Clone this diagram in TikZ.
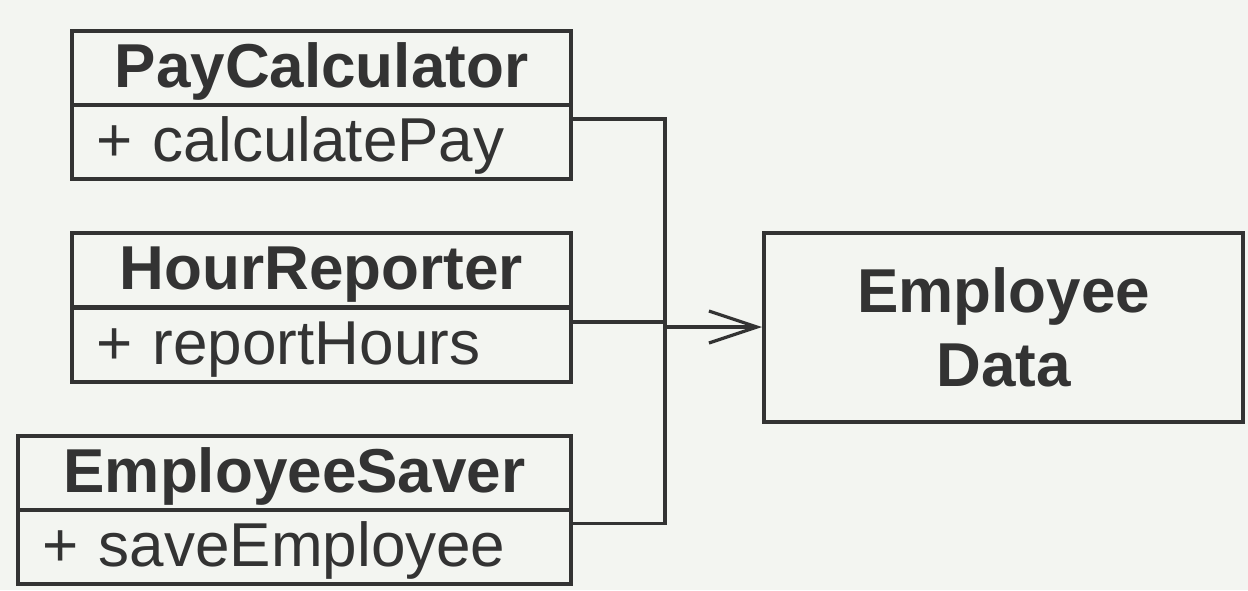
\documentclass[tikz,border=0pt]{standalone}
\usepackage{fontspec}
\setmainfont{Liberation Sans}
\usetikzlibrary{arrows.meta}
\definecolor{bgc}{HTML}{F3F5F1}
\definecolor{ink}{HTML}{333333}
\begin{document}
\begin{tikzpicture}[x=0.5pt,y=-0.5pt,
  every node/.style={font=\fontsize{31pt}{37pt}\selectfont, text=ink},
  comp/.style={draw=ink, line width=2pt, rectangle, minimum height=37pt, inner sep=0pt, text height=25.4pt, text depth=5.6pt},
  namecomp/.style={comp, font=\fontsize{31pt}{37pt}\selectfont\bfseries},
  attrcomp/.style={comp, align=left, inner xsep=12pt},
  conn/.style={draw=ink, line width=1.6pt},
  databox/.style={draw=ink, line width=2pt, rectangle, minimum width=239.5pt, minimum height=94.5pt, align=center, font=\fontsize{31pt}{37pt}\selectfont\bfseries}
]
\fill[bgc] (0,0) rectangle (1248,590);
\useasboundingbox (0,0) rectangle (1248,590);

% PayCalculator
\node[namecomp, minimum width=249.5pt] (pn) at (321.5,68) {PayCalculator};
\node[attrcomp, text width=225.5pt] (pa) at (321.5,142) {+ calculatePay};
% HourReporter
\node[namecomp, minimum width=249.5pt] (hn) at (321.5,270) {HourReporter};
\node[attrcomp, text width=225.5pt] (ha) at (321.5,345) {+ reportHours};
% EmployeeSaver
\node[namecomp, minimum width=276.5pt] (sn) at (294.5,472.5) {EmployeeSaver};
\node[attrcomp, text width=252.5pt] (sa) at (294.5,546.5) {+ saveEmployee};
% Employee Data
\node[databox] (ed) at (1003.5,327.5) {Employee\\Data};

\coordinate (bus) at (665,327);
\draw[conn] ([yshift=11.5pt]pa.east) -| (bus) |- ([yshift=11.5pt]sa.east);
\draw[conn] ([yshift=11.5pt]ha.east) -- ([yshift=11.5pt]ha.east -| bus);
\draw[conn, -{Straight Barb[length=24pt, width=16pt, line width=1.6pt]}] (bus) -- (ed.west |- bus);
\end{tikzpicture}
\end{document}
